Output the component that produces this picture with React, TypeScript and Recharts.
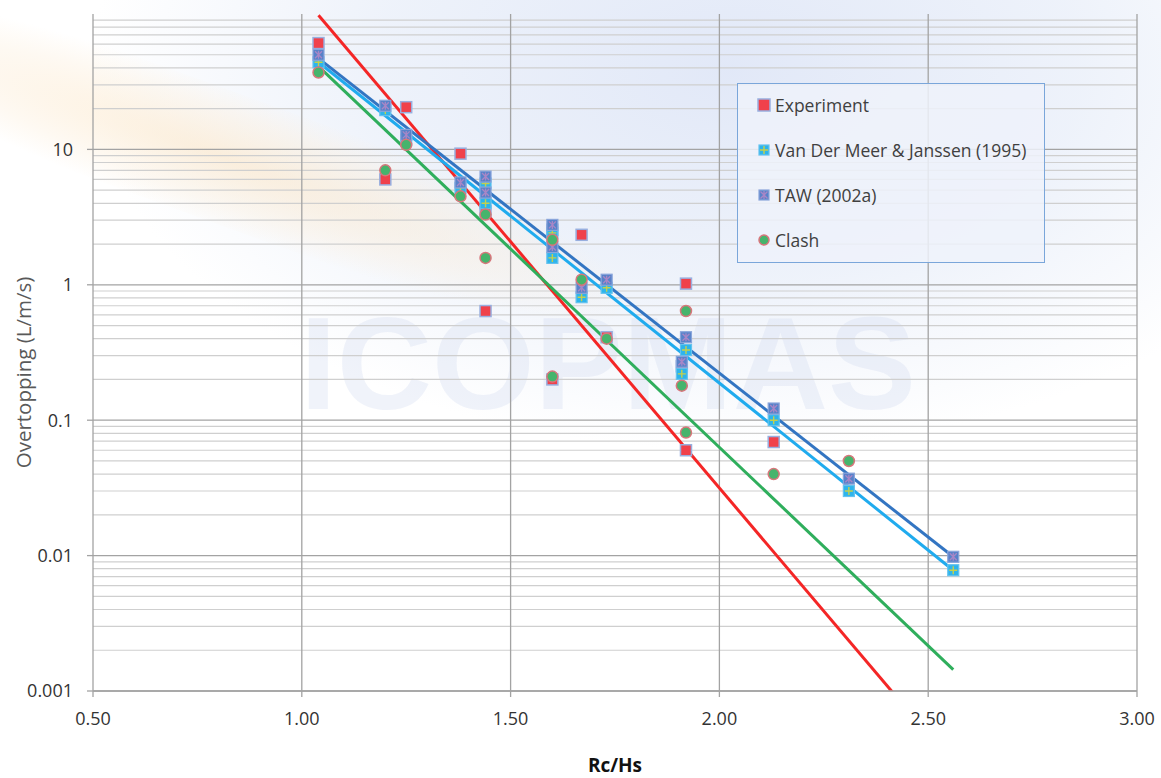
import React from "react";
import {
  ComposedChart,
  Scatter,
  Line,
  XAxis,
  YAxis,
  ReferenceLine,
  Legend,
} from "recharts";

document.body.style.margin = "0";

const FONT = "'Open Sans', 'Liberation Sans', sans-serif";

// measured points (Rc/Hs, overtopping L/m/s)
const experimentX = [1.04, 1.2, 1.25, 1.38, 1.44, 1.44, 1.6, 1.6, 1.67, 1.73, 1.92, 1.91, 1.92, 2.13];
const experimentY = [61, 6.0, 20.5, 9.3, 3.5, 0.64, 2.55, 0.2, 2.34, 0.41, 1.02, 0.25, 0.06, 0.069];

const vdmX = [1.04, 1.2, 1.25, 1.38, 1.44, 1.44, 1.6, 1.6, 1.67, 1.73, 1.92, 1.91, 2.13, 2.31, 2.56];
const vdmY = [44, 19.5, 11.7, 5.2, 5.6, 4.0, 2.42, 1.58, 0.81, 0.95, 0.33, 0.22, 0.1, 0.03, 0.0078];

const tawX = [1.04, 1.2, 1.25, 1.38, 1.44, 1.44, 1.6, 1.6, 1.67, 1.73, 1.92, 1.91, 2.13, 2.31, 2.56];
const tawY = [50, 21, 12.8, 5.7, 6.3, 4.8, 2.77, 1.9, 0.95, 1.09, 0.41, 0.27, 0.122, 0.037, 0.0098];

const clashX = [1.04, 1.2, 1.25, 1.38, 1.44, 1.44, 1.6, 1.6, 1.67, 1.73, 1.92, 1.91, 1.92, 2.13, 2.31];
const clashY = [37, 7.0, 10.8, 4.5, 3.3, 1.58, 2.15, 0.21, 1.09, 0.4, 0.64, 0.18, 0.081, 0.04, 0.05];

// trend line end points
const trendX = [1.04, 2.56];
const expTrend = [98, 0.00029];
const clashTrend = [41, 0.00144];
const vdmTrend = [44, 0.0078];
const tawTrend = [47, 0.0098];

const xTicks = [0.5, 1, 1.5, 2, 2.5, 3];
const yTicks = [0.001, 0.01, 0.1, 1, 10];
const decades = [0.001, 0.01, 0.1, 1, 10];
const minorSteps = [2, 3, 4, 5, 6, 7, 8, 9];
const legendNames = ["Experiment", "Van Der Meer & Janssen (1995)", "TAW (2002a)", "Clash"];

const pts = (xs: number[], ys: number[]) => xs.map((x, i) => ({ x, y: ys[i] }));
const minorLines = decades.flatMap((d) => minorSteps.map((k) => d * k));

const ExpMark = ({ cx, cy, s = 11 }: any) => (
  <rect x={cx - s / 2} y={cy - s / 2} width={s} height={s} fill="#f0414b" stroke="#98afdf" strokeWidth={1.5} />
);
const VdmMark = ({ cx, cy, s = 11 }: any) => (
  <g>
    <rect x={cx - s / 2} y={cy - s / 2} width={s} height={s} fill="#2db4ec" stroke="#64c2ee" strokeWidth={1.2} />
    <path d={`M${cx - 4} ${cy}H${cx + 4}M${cx} ${cy - 4}V${cy + 4}`} stroke="#c4d04c" strokeWidth={1.4} />
  </g>
);
const TawMark = ({ cx, cy, s = 11 }: any) => (
  <g>
    <rect x={cx - s / 2} y={cy - s / 2} width={s} height={s} fill="#5882c9" stroke="#8aa5db" strokeWidth={1.2} />
    <path
      d={`M${cx - 3.5} ${cy - 3.5}L${cx + 3.5} ${cy + 3.5}M${cx + 3.5} ${cy - 3.5}L${cx - 3.5} ${cy + 3.5}M${cx} ${cy - 4}V${cy + 4}`}
      stroke="#a986c6"
      strokeWidth={1.3}
    />
  </g>
);
const ClashMark = ({ cx, cy, s = 11 }: any) => (
  <circle cx={cx} cy={cy} r={s / 2} fill="#46b46c" stroke="#d7767b" strokeWidth={1.5} />
);
const legendMarks = [ExpMark, VdmMark, TawMark, ClashMark];

function LegendBox() {
  return (
    <div
      style={{
        position: "relative",
        width: 308,
        height: 180,
        boxSizing: "border-box",
        border: "1.5px solid #7aa6da",
        background: "rgba(238,242,250,0.85)",
        fontFamily: FONT,
        fontSize: 17.5,
        color: "#404040",
      }}
    >
      {legendNames.map((name, i) => {
        const M = legendMarks[i];
        return (
          <div
            key={name}
            style={{ position: "absolute", left: 19, top: 9 + i * 45, height: 24, display: "flex", alignItems: "center", whiteSpace: "nowrap" }}
          >
            <svg width={14} height={14}>
              <M cx={7} cy={7} s={i === 0 ? 12 : 10} />
            </svg>
            <span style={{ marginLeft: 4 }}>{name}</span>
          </div>
        );
      })}
    </div>
  );
}

export default function App() {
  return (
    <div style={{ position: "relative", width: 1161, height: 778, background: "#fff", overflow: "hidden" }}>
      {/* faint watermark backdrop */}
      <div
        style={{
          position: "absolute",
          inset: 0,
          background:
            "radial-gradient(ellipse 640px 380px at 730px 70px, rgba(224,231,247,0.95) 0%, rgba(232,238,249,0.75) 55%, rgba(255,255,255,0) 100%)",
        }}
      />
      <div
        style={{
          position: "absolute",
          left: -40,
          top: 120,
          width: 680,
          height: 130,
          transform: "rotate(20deg)",
          background: "radial-gradient(ellipse at 38% 50%, rgba(252,230,198,0.6) 0%, rgba(252,238,218,0.35) 50%, rgba(255,255,255,0) 75%)",
        }}
      />
      <div
        style={{
          position: "absolute",
          left: 300,
          top: 298,
          fontFamily: "'Liberation Sans', sans-serif",
          fontWeight: 700,
          fontSize: 132,
          color: "rgba(208,218,240,0.32)",
          lineHeight: 1,
        }}
      >
        ICOPMAS
      </div>
      <div style={{ position: "absolute", left: 0, top: 0 }}>
        <ComposedChart width={1161} height={778} margin={{ top: 14, right: 24, bottom: 0, left: 0 }}>
          {minorLines.map((v) => (
            <ReferenceLine key={"m" + v} y={v} stroke="#cfcfcf" strokeWidth={1.2} />
          ))}
          {decades.map((v) => (
            <ReferenceLine key={"d" + v} y={v} stroke="#a3a3a3" strokeWidth={1.3} />
          ))}
          {xTicks.slice(1).map((v) => (
            <ReferenceLine key={"x" + v} x={v} stroke="#a3a3a3" strokeWidth={1.3} />
          ))}
          <XAxis
            type="number"
            dataKey="x"
            domain={[0.5, 3]}
            ticks={xTicks}
            tickFormatter={(v: number) => v.toFixed(2)}
            height={87}
            tickSize={6}
            tickMargin={15}
            stroke="#a3a3a3"
            strokeWidth={1.3}
            tick={{ fill: "#333", fontSize: 18, fontFamily: FONT }}
            label={(p: any) => (
              <text
                x={p.viewBox.x + p.viewBox.width / 2}
                y={p.viewBox.y + 74}
                textAnchor="middle"
                dominantBaseline="central"
                fontFamily={FONT}
                fontSize={19}
                fontWeight={700}
                fill="#111"
              >
                Rc/Hs
              </text>
            )}
          />
          <YAxis
            type="number"
            dataKey="y"
            scale="log"
            domain={[0.001, 100]}
            allowDataOverflow
            ticks={yTicks}
            tickFormatter={(v: number) => String(v)}
            width={93}
            tickSize={6}
            tickMargin={14}
            stroke="#a3a3a3"
            strokeWidth={1.3}
            tick={{ fill: "#333", fontSize: 18, fontFamily: FONT }}
            label={(p: any) => {
              const cx = 23;
              const cy = p.viewBox.y + p.viewBox.height / 2 + 20;
              return (
                <text
                  x={cx}
                  y={cy}
                  transform={`rotate(-90 ${cx} ${cy})`}
                  textAnchor="middle"
                  dominantBaseline="central"
                  fontFamily={FONT}
                  fontSize={20.5}
                  fill="#595959"
                >
                  Overtopping (L/m/s)
                </text>
              );
            }}
          />
          <Legend
            layout="horizontal"
            verticalAlign="middle"
            align="center"
            content={() => <LegendBox />}
            wrapperStyle={{ position: "absolute", left: 737, top: 83, width: 308, height: 180 }}
          />
          <Scatter name="Experiment" data={pts(experimentX, experimentY)} shape={ExpMark} isAnimationActive={false} />
          <Scatter name="Van Der Meer & Janssen (1995)" data={pts(vdmX, vdmY)} shape={VdmMark} isAnimationActive={false} />
          <Scatter name="TAW (2002a)" data={pts(tawX, tawY)} shape={TawMark} isAnimationActive={false} />
          <Scatter name="Clash" data={pts(clashX, clashY)} shape={ClashMark} isAnimationActive={false} />
          <Line data={pts(trendX, expTrend)} dataKey="y" type="linear" dot={false} stroke="#f42626" strokeWidth={3} isAnimationActive={false} legendType="none" />
          <Line data={pts(trendX, clashTrend)} dataKey="y" type="linear" dot={false} stroke="#2fae5c" strokeWidth={3} isAnimationActive={false} legendType="none" />
          <Line data={pts(trendX, vdmTrend)} dataKey="y" type="linear" dot={false} stroke="#20abee" strokeWidth={3} isAnimationActive={false} legendType="none" />
          <Line data={pts(trendX, tawTrend)} dataKey="y" type="linear" dot={false} stroke="#3375c2" strokeWidth={3} isAnimationActive={false} legendType="none" />
        </ComposedChart>
      </div>
    </div>
  );
}
